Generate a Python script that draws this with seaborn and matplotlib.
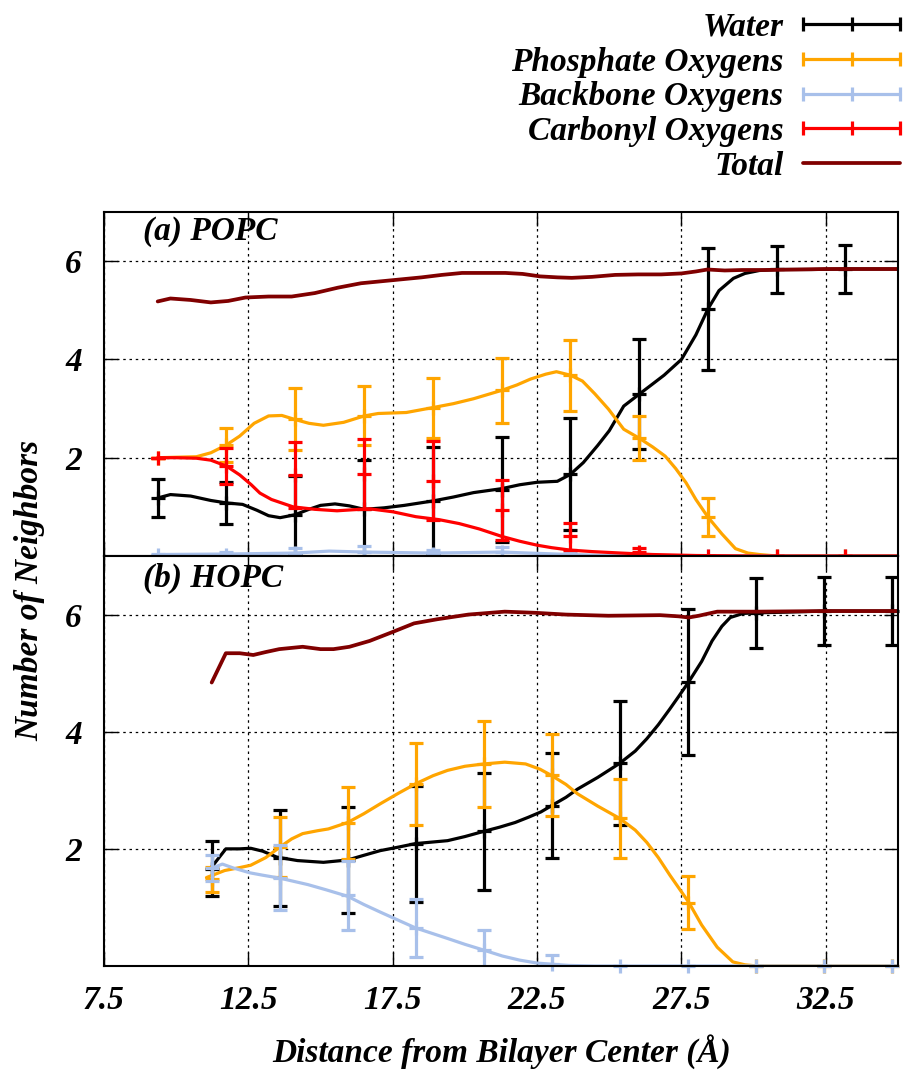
import numpy as np
import pandas as pd
import matplotlib
matplotlib.use("Agg")
import matplotlib.pyplot as plt
import seaborn as sns
from matplotlib.lines import Line2D
from matplotlib.legend_handler import HandlerLine2D

# ---------------- data ----------------
# (a) POPC -- smooth curves
popc_total_x = [9.36, 9.8, 10.5, 11.2, 11.8, 12.4, 13.2, 14.0, 14.8, 15.6, 16.4, 17.1, 17.8, 18.5, 19.2,
                19.9, 20.6, 21.4, 22.0, 22.6, 23.2, 23.7, 24.4, 25.2, 26.0, 26.8, 27.5, 28.0, 28.4, 29.0,
                29.6, 30.4, 31.5, 32.5, 33.5, 35.0]
popc_total_y = [5.18, 5.24, 5.21, 5.16, 5.19, 5.26, 5.28, 5.28, 5.35, 5.46, 5.55, 5.59, 5.63, 5.67, 5.72,
                5.76, 5.76, 5.76, 5.74, 5.69, 5.67, 5.66, 5.68, 5.72, 5.73, 5.73, 5.75, 5.79, 5.83, 5.81,
                5.82, 5.82, 5.83, 5.84, 5.84, 5.84]

popc_water_x = [9.36, 9.8, 10.5, 11.2, 11.74, 12.3, 12.8, 13.2, 13.6, 14.12, 14.6, 15.0, 15.5, 16.0, 16.51,
                17.2, 17.9, 18.89, 19.6, 20.3, 21.27, 21.9, 22.5, 23.2, 23.65, 24.1, 24.6, 25.0, 25.5,
                26.03, 26.5, 26.9, 27.5, 28.0, 28.42, 28.8, 29.3, 29.7, 30.2, 30.8, 32.0, 33.18, 35.0]
popc_water_y = [1.18, 1.25, 1.22, 1.13, 1.08, 1.05, 0.93, 0.82, 0.78, 0.84, 0.95, 1.03, 1.06, 1.02, 0.95,
                0.98, 1.03, 1.12, 1.20, 1.29, 1.37, 1.45, 1.50, 1.52, 1.66, 1.90, 2.25, 2.55, 3.05,
                3.29, 3.50, 3.68, 4.00, 4.50, 5.03, 5.40, 5.65, 5.75, 5.81, 5.83, 5.83, 5.84, 5.84]

popc_phos_x = [9.36, 10.7, 11.2, 11.74, 12.2, 12.7, 13.2, 13.66, 14.1, 14.6, 15.1, 15.8, 16.51, 17.0, 17.97,
               18.89, 19.6, 20.3, 21.27, 21.8, 22.27, 22.8, 23.17, 23.65, 24.07, 24.5, 24.97, 25.5, 26.03,
               26.5, 26.94, 27.3, 27.66, 28.0, 28.42, 28.9, 29.37, 29.8, 30.2, 30.8, 35.0]
popc_phos_y = [2.00, 2.02, 2.10, 2.26, 2.44, 2.70, 2.85, 2.86, 2.78, 2.70, 2.66, 2.72, 2.85, 2.90, 2.92,
               3.02, 3.10, 3.20, 3.37, 3.48, 3.60, 3.70, 3.75, 3.68, 3.56, 3.30, 2.99, 2.58, 2.40,
               2.22, 2.03, 1.78, 1.49, 1.15, 0.79, 0.45, 0.15, 0.06, 0.03, 0.00, 0.00]

popc_bb_x = [9.36, 11.74, 14.12, 15.3, 16.51, 18.89, 21.27, 23.65, 25.0, 26.03, 35.0]
popc_bb_y = [0.03, 0.04, 0.06, 0.10, 0.08, 0.06, 0.08, 0.03, 0.01, 0.00, 0.00]

popc_carb_x = [9.36, 10.0, 10.7, 11.2, 11.74, 12.2, 12.6, 12.9, 13.3, 14.05, 14.8, 15.57, 16.1, 16.7, 17.5,
               18.3, 19.1, 19.8, 20.5, 21.27, 21.9, 22.5, 23.0, 23.65, 24.4, 25.4, 26.5, 28.0, 30.0, 35.0]
popc_carb_y = [2.00, 2.00, 1.99, 1.95, 1.83, 1.65, 1.45, 1.28, 1.15, 1.00, 0.95, 0.92, 0.94, 0.96, 0.90,
               0.80, 0.74, 0.66, 0.55, 0.40, 0.30, 0.22, 0.17, 0.12, 0.09, 0.06, 0.03, 0.01, 0.00, 0.00]

# (a) POPC -- error-bar points
popc_err_x = [9.36, 11.74, 14.12, 16.51, 18.89, 21.27, 23.65, 26.03, 28.42, 30.80, 33.18]
popc_water_c = [1.18, 1.08, 0.84, 0.95, 1.12, 1.35, 1.66, 3.29, 5.03, 5.83, 5.84]
popc_water_e = [0.39, 0.43, 0.79, 1.00, 1.10, 1.07, 1.14, 1.12, 1.24, 0.48, 0.48]
popc_phos_c = [2.00, 2.26, 2.78, 2.85, 3.02, 3.37, 3.68, 2.40, 0.79, 0.00, 0.00]
popc_phos_e = [0.00, 0.35, 0.63, 0.60, 0.61, 0.66, 0.72, 0.44, 0.39, 0.00, 0.00]
popc_bb_c = [0.02, 0.03, 0.07, 0.08, 0.05, 0.08, 0.02, 0.00, 0.00, 0.00, 0.00]
popc_bb_e = [0.03, 0.05, 0.09, 0.12, 0.07, 0.10, 0.04, 0.00, 0.00, 0.00, 0.00]
popc_carb_c = [2.00, 1.83, 1.65, 1.67, 1.53, 0.93, 0.40, 0.08, 0.00, 0.00, 0.00]
popc_carb_e = [0.00, 0.36, 0.67, 0.71, 0.80, 0.61, 0.28, 0.08, 0.00, 0.00, 0.00]

# (b) HOPC -- smooth curves
hopc_total_x = [11.23, 11.72, 12.2, 12.67, 13.1, 13.57, 14.38, 15.0, 15.45, 16.0, 16.7, 17.43, 18.24, 19.04,
                20.12, 21.38, 22.45, 23.5, 24.97, 26.76, 27.4, 27.75, 28.1, 28.74, 30.12, 32.47, 35.0]
hopc_total_y = [4.84, 5.34, 5.34, 5.31, 5.36, 5.41, 5.45, 5.41, 5.41, 5.45, 5.55, 5.69, 5.85, 5.92,
                6.00, 6.05, 6.03, 6.00, 5.98, 5.99, 5.97, 5.95, 5.98, 6.05, 6.05, 6.06, 6.06]

hopc_water_x = [11.23, 11.72, 12.2, 12.58, 13.0, 13.48, 14.2, 15.1, 15.94, 16.5, 17.07, 17.7, 18.29, 19.4,
                20.0, 20.66, 21.2, 21.74, 22.2, 22.63, 23.01, 23.5, 23.9, 24.6, 25.36, 25.9, 26.3, 26.7,
                27.1, 27.4, 27.75, 28.2, 28.56, 28.9, 29.19, 29.64, 30.12, 31.0, 32.47, 33.5, 35.0]
hopc_water_y = [1.69, 2.00, 2.00, 2.01, 1.96, 1.86, 1.80, 1.77, 1.81, 1.89, 1.97, 2.03, 2.09, 2.14,
                2.21, 2.30, 2.37, 2.45, 2.54, 2.63, 2.74, 2.88, 3.02, 3.22, 3.46, 3.67, 3.88, 4.12,
                4.39, 4.60, 4.85, 5.20, 5.55, 5.80, 5.95, 6.02, 6.03, 6.04, 6.06, 6.06, 6.06]

hopc_phos_x = [11.05, 11.68, 12.2, 12.58, 13.1, 13.59, 14.0, 14.38, 14.9, 15.27, 15.94, 16.5, 17.07, 17.7,
               18.29, 18.9, 19.4, 20.0, 20.66, 21.38, 22.1, 22.6, 23.01, 23.5, 23.9, 24.6, 25.36, 25.9,
               26.3, 26.7, 27.1, 27.75, 28.2, 28.74, 29.28, 29.7, 30.12, 35.0]
hopc_phos_y = [1.51, 1.63, 1.68, 1.72, 1.85, 2.03, 2.17, 2.26, 2.31, 2.34, 2.45, 2.60, 2.77, 2.95,
               3.11, 3.25, 3.34, 3.41, 3.45, 3.48, 3.45, 3.36, 3.25, 3.10, 2.94, 2.73, 2.52, 2.32,
               2.11, 1.85, 1.55, 1.09, 0.70, 0.32, 0.07, 0.02, 0.00, 0.00]

hopc_bb_x = [11.23, 11.6, 12.0, 12.56, 13.0, 13.59, 14.56, 15.2, 15.94, 16.5, 17.07, 17.7, 18.29, 19.4,
             20.0, 20.66, 21.3, 21.9, 22.5, 23.01, 23.6, 24.5, 25.37, 35.0]
hopc_bb_y = [1.67, 1.74, 1.67, 1.59, 1.55, 1.50, 1.39, 1.30, 1.19, 1.05, 0.92, 0.78, 0.65, 0.47,
             0.37, 0.27, 0.17, 0.10, 0.05, 0.03, 0.01, 0.00, 0.00, 0.00]

# (b) HOPC -- error-bar points
hopc_err_x = [11.23, 13.59, 15.94, 18.30, 20.65, 23.01, 25.37, 27.72, 30.08, 32.43, 34.79]
hopc_water_c = [1.66, 1.84, 1.81, 2.09, 2.30, 2.74, 3.46, 4.85, 6.03, 6.06, 6.06]
hopc_water_e = [0.47, 0.82, 0.90, 0.99, 1.00, 0.90, 1.06, 1.25, 0.60, 0.58, 0.58]
hopc_phos_c = [1.48, 2.03, 2.44, 3.11, 3.45, 3.26, 2.52, 1.08, 0.00, 0.00, 0.00]
hopc_phos_e = [0.21, 0.51, 0.62, 0.70, 0.73, 0.70, 0.68, 0.45, 0.00, 0.00, 0.00]
hopc_bb_c = [1.67, 1.51, 1.21, 0.65, 0.27, 0.03, 0.00, 0.00, 0.00, 0.00, 0.00]
hopc_bb_e = [0.22, 0.55, 0.59, 0.50, 0.34, 0.15, 0.00, 0.00, 0.00, 0.00, 0.00]

x_ticks = [7.5, 12.5, 17.5, 22.5, 27.5, 32.5]
x_tick_labels = ["7.5", "12.5", "17.5", "22.5", "27.5", "32.5"]
y_ticks = [2, 4, 6]
y_tick_labels = ["2", "4", "6"]
series_labels = ["Water", "Phosphate Oxygens", "Backbone Oxygens", "Carbonyl Oxygens", "Total"]

# ---------------- style ----------------
C_WATER = "#000000"
C_PHOS = "#ffa500"
C_BB = "#a8c0ea"
C_CARB = "#ff0000"
C_TOT = "#800000"

sns.set_theme(style="ticks")
plt.rcParams['font.family'] = ['Liberation Serif', 'DejaVu Serif']
plt.rcParams['font.weight'] = 'bold'
plt.rcParams['font.style'] = 'italic'
plt.rcParams['axes.labelweight'] = 'bold'
plt.rcParams['text.color'] = 'black'
plt.rcParams['axes.labelcolor'] = 'black'
plt.rcParams['xtick.color'] = 'black'
plt.rcParams['ytick.color'] = 'black'

FS = 24
LW = 2.3

fig = plt.figure(figsize=(9.04, 10.70), dpi=100)
W, H = 904.0, 1070.0
ax1 = fig.add_axes([104 / W, 1 - 556 / H, 794 / W, 344 / H])
ax2 = fig.add_axes([104 / W, 1 - 966 / H, 794 / W, 410 / H])


def curve(ax, x, y, color, lw, z):
    sns.lineplot(x=x, y=y, ax=ax, color=color, lw=lw, sort=False, estimator=None, zorder=z)


def bars(ax, x, c, e, color, z):
    ax.errorbar(x, c, yerr=e, fmt='none', ecolor=color, elinewidth=LW, capsize=5, capthick=LW, zorder=z)
    ax.plot(x, c, ls='none', marker='+', ms=10, mew=LW, color=color, zorder=z, clip_on=False)


# panel (a)
curve(ax1, popc_water_x, popc_water_y, C_WATER, LW, 2)
bars(ax1, popc_err_x, popc_water_c, popc_water_e, C_WATER, 2)
curve(ax1, popc_phos_x, popc_phos_y, C_PHOS, LW, 3)
bars(ax1, popc_err_x, popc_phos_c, popc_phos_e, C_PHOS, 3)
curve(ax1, popc_bb_x, popc_bb_y, C_BB, LW, 4)
bars(ax1, popc_err_x, popc_bb_c, popc_bb_e, C_BB, 4)
curve(ax1, popc_carb_x, popc_carb_y, C_CARB, LW, 5)
bars(ax1, popc_err_x, popc_carb_c, popc_carb_e, C_CARB, 5)
curve(ax1, popc_total_x, popc_total_y, C_TOT, 2.7, 6)

# panel (b)
curve(ax2, hopc_water_x, hopc_water_y, C_WATER, LW, 2)
bars(ax2, hopc_err_x, hopc_water_c, hopc_water_e, C_WATER, 2)
curve(ax2, hopc_phos_x, hopc_phos_y, C_PHOS, LW, 3)
bars(ax2, hopc_err_x, hopc_phos_c, hopc_phos_e, C_PHOS, 3)
curve(ax2, hopc_bb_x, hopc_bb_y, C_BB, LW, 4)
bars(ax2, hopc_err_x, hopc_bb_c, hopc_bb_e, C_BB, 4)
curve(ax2, hopc_total_x, hopc_total_y, C_TOT, 2.7, 6)

for ax in (ax1, ax2):
    ax.set_xlim(7.5, 35)
    ax.set_ylim(0, 7)
    ax.set_xticks(x_ticks)
    ax.set_yticks(y_ticks)
    ax.set_yticklabels(y_tick_labels)
    ax.grid(True, color='black', ls=(0, (2, 3)), lw=0.9)
    ax.tick_params(direction='in', length=10, width=1, top=True, right=True,
                   labelsize=FS, colors='black', labelcolor='black')
    ax.tick_params(axis='y', pad=16)
    ax.tick_params(axis='x', pad=14)
    for s in ax.spines.values():
        s.set_linewidth(1.5)
        s.set_color('black')
        s.set_zorder(10)
    ax.set_xlabel("")
    ax.set_ylabel("")
    ax.set_facecolor('white')

ax1.set_xticklabels([])
ax2.set_xticklabels(x_tick_labels)

ax1.text(0.049, 0.942, "(a) POPC", transform=ax1.transAxes, fontsize=FS, ha='left', va='center',
         color='black', zorder=20)
ax2.text(0.049, 0.946, "(b) HOPC", transform=ax2.transAxes, fontsize=FS, ha='left', va='center',
         color='black', zorder=20)

fig.text(30 / W, 1 - 590 / H, "Number of Neighbors", rotation=90, ha='center', va='center',
         fontsize=FS, color='black')
fig.text(502 / W, 1 - 1052 / H, "Distance from Bilayer Center (Å)", ha='center', va='center',
         fontsize=FS, color='black')

# legend
handles = []
for c in (C_WATER, C_PHOS, C_BB, C_CARB):
    handles.append(Line2D([], [], color=c, lw=LW, marker='|', ms=10, mew=LW))
handles.append(Line2D([], [], color=C_TOT, lw=2.7))
hmap = {h: HandlerLine2D(numpoints=3, marker_pad=0) for h in handles}
leg = fig.legend(handles, series_labels, loc='upper right', bbox_to_anchor=(900 / W, 1 - 12 / H),
                 frameon=False, fontsize=FS, markerfirst=False, handlelength=2.9, handletextpad=0.6,
                 labelspacing=0.11, borderpad=0, borderaxespad=0, handler_map=hmap)
for t in leg.get_texts():
    t.set_color('black')

fig.savefig("out.png", dpi=100, facecolor='white')
